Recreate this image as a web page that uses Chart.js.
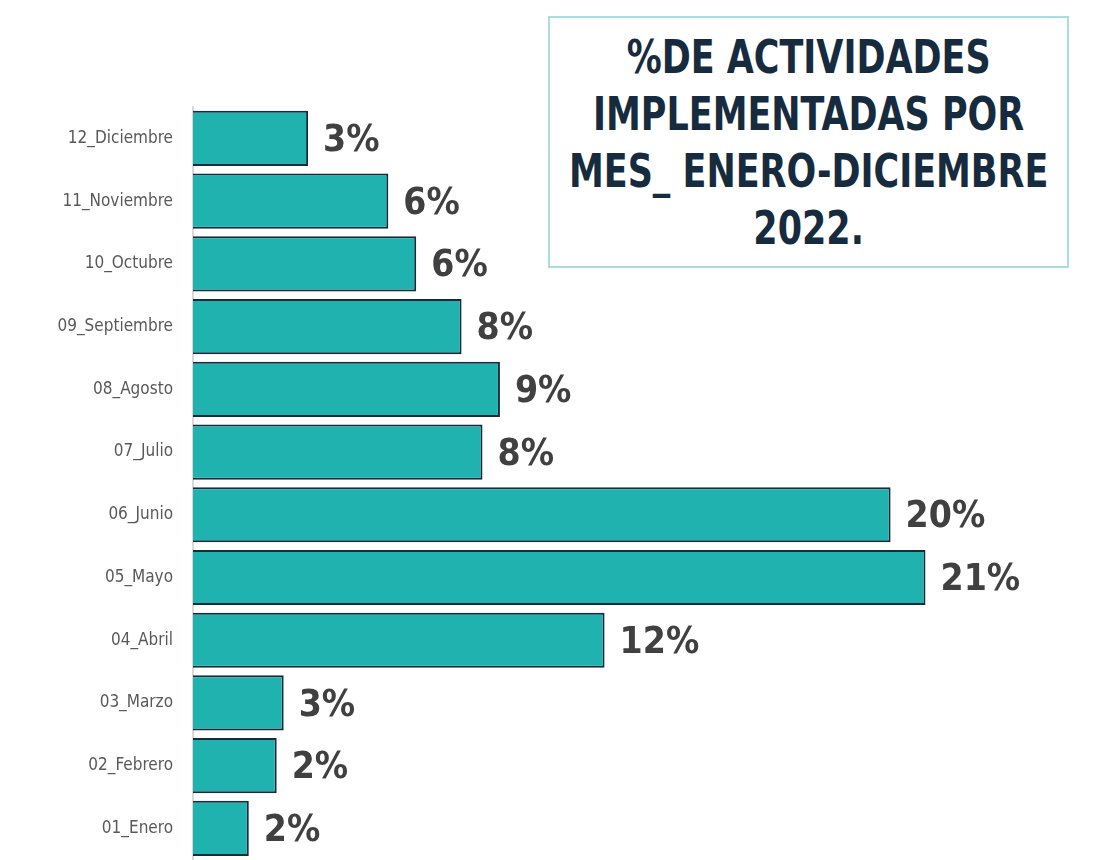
<!DOCTYPE html>
<html>
<head>
<meta charset="utf-8">
<script src="https://cdn.jsdelivr.net/npm/chart.js@4.4.0/dist/chart.umd.min.js"></script>
<style>
    html, body { margin: 0; padding: 0; background: #ffffff; overflow: hidden; }
    #wrap { position: relative; width: 1101px; height: 860px; overflow: hidden; }
    #chart { display: block; }
    #title-box {
        position: absolute; left: 548px; top: 16px; width: 517px; height: 248px;
        border: 2px solid #aadede; background: #ffffff;
        display: flex; align-items: center; justify-content: center; text-align: center;
        font-family: "DejaVu Sans Condensed", sans-serif;
        font-weight: bold; font-size: 46px; line-height: 57px; color: #172b3e;
        white-space: nowrap;
    }
    #title-box span { display: inline-block; transform: translateY(1px) scaleX(0.845); }
</style>
</head>
<body>
<div id="wrap">
    <canvas id="chart" width="1101" height="882"></canvas>
    <div id="title-box"><span>%DE ACTIVIDADES<br>IMPLEMENTADAS POR<br>MES_ ENERO-DICIEMBRE<br>2022.</span></div>
</div>
<script>
const months = ['12_Diciembre', '11_Noviembre', '10_Octubre', '09_Septiembre', '08_Agosto', '07_Julio',
    '06_Junio', '05_Mayo', '04_Abril', '03_Marzo', '02_Febrero', '01_Enero'];
const percentages = [3.3, 5.6, 6.4, 7.7, 8.8, 8.3, 20.0, 21.0, 11.8, 2.6, 2.4, 1.6];
const valueLabels = percentages.map(v => Math.round(v) + '%');

const barColor = '#20b2ae';
const barBorder = '#172b3e';

// draws the bold percentage next to each bar end
const valueLabelPlugin = {
    id: 'valueLabels',
    afterDatasetsDraw(chart) {
        const ctx = chart.ctx;
        const meta = chart.getDatasetMeta(0);
        ctx.save();
        ctx.font = 'bold 37px "DejaVu Sans Condensed", sans-serif';
        ctx.fillStyle = '#404040';
        ctx.textAlign = 'left';
        ctx.textBaseline = 'middle';
        meta.data.forEach((bar, i) => {
            ctx.fillText(valueLabels[i], bar.x + 15, bar.y + 3);
        });
        ctx.restore();
    }
};

new Chart(document.getElementById('chart'), {
    type: 'bar',
    data: {
        labels: months,
        datasets: [{
            data: percentages,
            backgroundColor: barColor,
            borderColor: barBorder,
            borderWidth: 2,
            borderSkipped: 'left',
            categoryPercentage: 1,
            barPercentage: 0.88
        }]
    },
    options: {
        indexAxis: 'y',
        responsive: false,
        animation: false,
        layout: { padding: { top: 107, right: 36, bottom: 0, left: 0 } },
        plugins: {
            legend: { display: false },
            tooltip: { enabled: false }
        },
        scales: {
            x: {
                display: false,
                min: 0,
                max: 25
            },
            y: {
                afterFit: (scale) => { scale.width = 193; },
                grid: { display: false },
                border: { display: true, color: '#d9d9d9', width: 2 },
                ticks: {
                    padding: 12,
                    color: '#595959',
                    font: { family: '"DejaVu Sans Condensed", sans-serif', size: 17 }
                }
            }
        }
    },
    plugins: [valueLabelPlugin]
});
</script>
</body>
</html>
